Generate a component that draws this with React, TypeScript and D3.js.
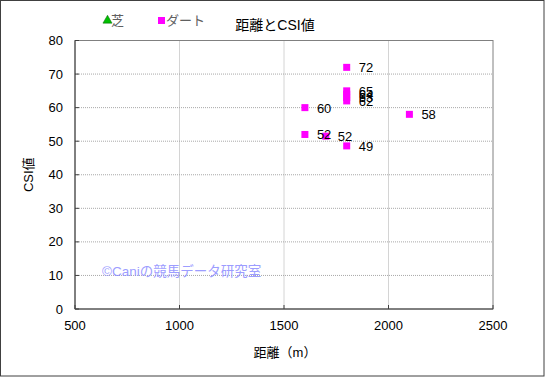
import React from "react";
import * as d3 from "d3";

const title = "距離とCSI値";
const xLabel = "距離（m）";
const yLabel = "CSI値";
const watermark = "©Caniの競馬データ研究室";
const seriesNames = ["芝", "ダート"];
const seriesColors = ["#00c000", "#ff00ff"];
const xTicks = [500, 1000, 1500, 2000, 2500];
const yTicks = [0, 10, 20, 30, 40, 50, 60, 70, 80];
// 芝 has no points
const turfDist: number[] = [];
const turfCsi: number[] = [];
const dirtDist = [1800, 1800, 1800, 1800, 1800, 1600, 2100, 1600, 1700, 1800];
const dirtCsi = [72, 65, 64, 63, 62, 60, 58, 52, 51.5, 48.6];

const W = 545, H = 377;
const M = { left: 75, right: 493, top: 40.5, bottom: 309 };

export default function App() {
  const x = d3.scaleLinear().domain([500, 2500]).range([M.left, M.right]);
  const y = d3.scaleLinear().domain([0, 80]).range([M.bottom, M.top]);
  const font = "'Liberation Sans', Arial, 'Noto Sans CJK JP', sans-serif";
  const fmt = d3.format(".0f");
  const dirt = dirtDist.map((d, i) => ({ d, v: dirtCsi[i] }));
  const turf = turfDist.map((d, i) => ({ d, v: turfCsi[i] }));
  const tri = d3.symbol().type(d3.symbolTriangle).size(36)();
  return (
    <svg width={W} height={H} style={{ position: "absolute", left: 0, top: 0, fontFamily: font }}>
      <rect x={0} y={0} width={W} height={H} fill="#fff" />
      <rect x={0.5} y={0.5} width={W - 1.5} height={H - 1.5} fill="none" stroke="#404040" strokeWidth={1} />
      {/* grid */}
      {xTicks.slice(1, -1).map((t) => (
        <line key={"gx" + t} x1={x(t)} x2={x(t)} y1={M.top} y2={M.bottom} stroke="#a8a8a8" strokeDasharray="1,1" />
      ))}
      {yTicks.slice(1, -1).map((t) => (
        <line key={"gy" + t} x1={M.left} x2={M.right} y1={y(t)} y2={y(t)} stroke="#a8a8a8" strokeDasharray="1,1" />
      ))}
      <rect x={M.left} y={M.top} width={M.right - M.left} height={M.bottom - M.top} fill="none" stroke="#808080" />
      <line x1={M.left} x2={M.left} y1={M.top} y2={M.bottom} stroke="#404040" />
      <line x1={M.left} x2={M.right} y1={M.bottom} y2={M.bottom} stroke="#404040" />
      {yTicks.map((t) => (
        <g key={"ty" + t}>
          <line x1={M.left} x2={M.left + 4} y1={y(t)} y2={y(t)} stroke="#404040" />
          <text x={63} y={y(t)} dy="0.35em" textAnchor="end" fontSize={13} fill="#000">{t}</text>
        </g>
      ))}
      {xTicks.map((t) => (
        <g key={"tx" + t}>
          <line x1={x(t)} x2={x(t)} y1={M.bottom} y2={M.bottom - 4} stroke="#404040" />
          <text x={x(t)} y={330} textAnchor="middle" fontSize={13} fill="#000">{t}</text>
        </g>
      ))}
      <text x={285} y={357} textAnchor="middle" fontSize={13} fill="#000">{xLabel}</text>
      <text transform={`translate(33,${(M.top + M.bottom) / 2}) rotate(-90)`} textAnchor="middle" fontSize={13} fill="#000">{yLabel}</text>
      <text x={275} y={30} textAnchor="middle" fontSize={14} fill="#000">{title}</text>
      {/* legend */}
      <path d={tri} transform="translate(107.5,20.5)" fill={seriesColors[0]} stroke="#006000" strokeWidth={0.5} />
      <text x={111} y={25} fontSize={13} fill="#606060">{seriesNames[0]}</text>
      <rect x={158} y={17} width={7} height={7} fill={seriesColors[1]} />
      <text x={166} y={25} fontSize={13} fill="#606060">{seriesNames[1]}</text>
      {/* watermark */}
      <text x={102} y={276} fontSize={13.5} fill="#8c8cff" opacity={0.85}>{watermark}</text>
      {/* points */}
      {turf.map((p, i) => (
        <path key={"t" + i} d={tri} transform={`translate(${x(p.d)},${y(p.v)})`} fill={seriesColors[0]} />
      ))}
      {dirt.map((p, i) => (
        <rect key={"d" + i} x={x(p.d) - 3.5} y={y(p.v) - 3.5} width={7} height={7} fill={seriesColors[1]} />
      ))}
      {dirt.map((p, i) => (
        <text key={"l" + i} x={x(p.d) + 12} y={y(p.v)} dy="0.38em" fontSize={13} fill="#000">{fmt(p.v)}</text>
      ))}
    </svg>
  );
}
